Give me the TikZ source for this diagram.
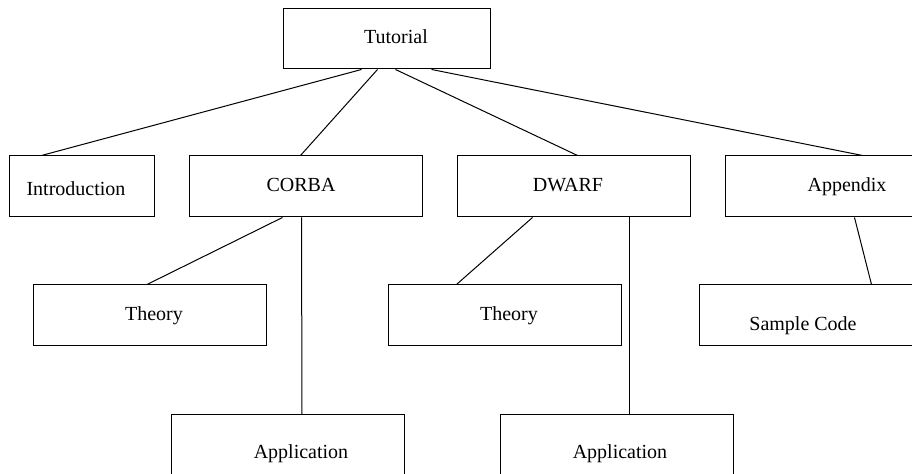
\documentclass[tikz,border=0pt]{standalone}
\usepackage{fontspec}
\setmainfont{Liberation Serif}
\usetikzlibrary{calc}

\begin{document}
\begin{tikzpicture} [x=0.5pt, y=-0.5pt, font=\fontsize{10}{12}\selectfont,
  box/.style={draw, line width=.5pt, inner sep=0pt, minimum height=30.5pt, text height=7pt, text depth=2pt},
  wide/.style={box, minimum width=116.5pt},
  link/.style={line width=.5pt}]
\useasboundingbox (0,0) rectangle (912,474);
\node[box, minimum width=103.5pt, minimum height=30pt] (tut) at (386.5,39) {\hspace*{9.5pt}Tutorial};
\node[box, minimum width=72.5pt] (intro) at (81.5,186.5) {\hspace*{-5.5pt}\raisebox{-2.25pt}[\height][\depth]{Introduction}};
\node[wide] (corba) at (305.5,186.5) {\hspace*{-4.5pt}CORBA};
\node[wide] (dwarf) at (573.5,186.5) {\hspace*{-5.5pt}DWARF};
\node[wide] (appx) at (841.5,186.5) {\hspace*{5.5pt}Appendix};
\node[wide] (theoA) at (150,315.5) {\hspace*{4pt}Theory};
\node[wide] (theoB) at (504.5,315.5) {\hspace*{4.5pt}Theory};
\node[wide] (code) at (815.5,315.5) {\hspace*{-12.5pt}\raisebox{-5pt}[\height][\depth]{Sample Code}};
\node[wide, minimum height=39pt] (appA) at (288,454) {\hspace*{13pt}Application};
\node[wide, minimum height=39pt] (appB) at (616.5,454) {\hspace*{3.5pt}Application};
\draw[link] ($(tut.south west)+(79,0)$) -- ($(intro.north west)+(33,0)$);
\draw[link] ($(tut.south west)+(95,0)$) -- ($(corba.north west)+(112,0)$);
\draw[link] ($(tut.south west)+(113,0)$) -- ($(dwarf.north west)+(121,0)$);
\draw[link] ($(tut.south west)+(149,0)$) -- ($(appx.north west)+(138,0)$);
\draw[link] ($(corba.south west)+(94,0)$) -- ($(theoA.north west)+(114,0)$);
\draw[link] ($(corba.south west)+(113,0)$) -- ($(appA.north west)+(131,0)$);
\draw[link] ($(dwarf.south west)+(76,0)$) -- ($(theoB.north west)+(69,0)$);
\draw[link] ($(dwarf.south west)+(173,0)$) -- ($(appB.north west)+(130,0)$);
\draw[link] ($(appx.south west)+(130,0)$) -- ($(code.north west)+(173,0)$);
\end{tikzpicture}
\end{document}
